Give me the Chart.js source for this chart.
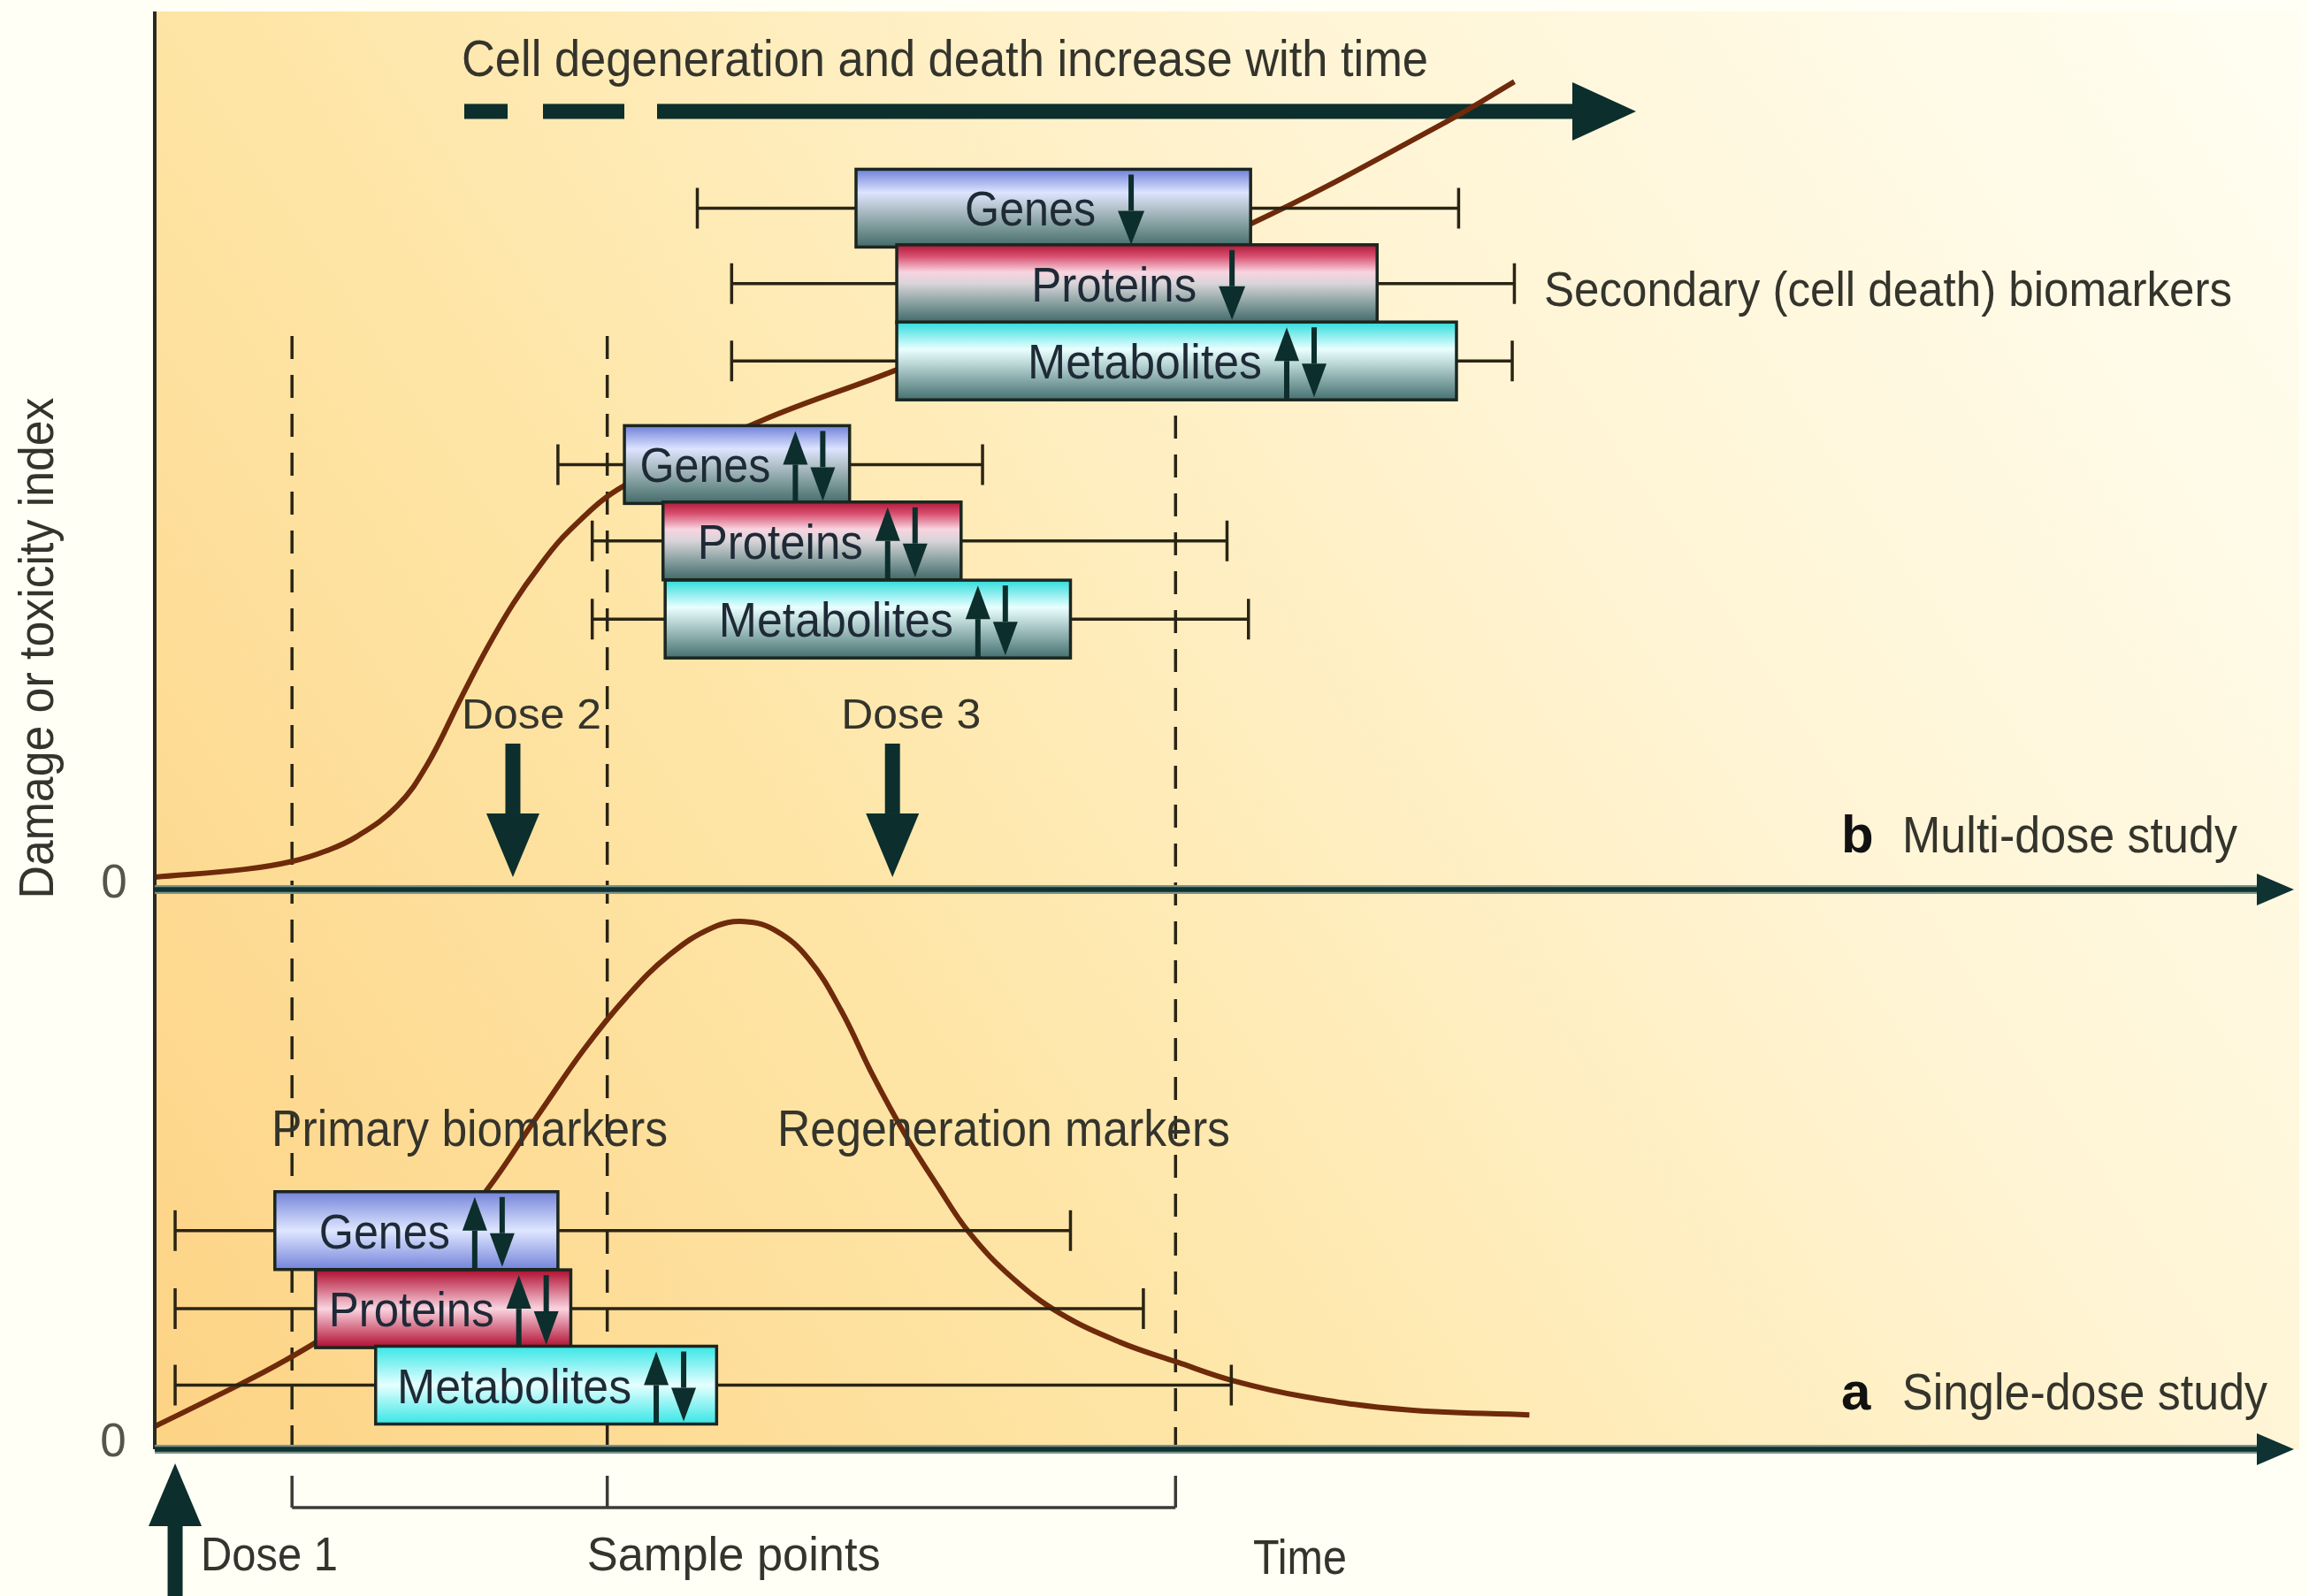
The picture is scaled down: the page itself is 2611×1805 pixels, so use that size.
<!DOCTYPE html>
<html lang="en">
  <head>
    <meta charset="UTF-8" />
    <title>Biomarkers in single- and multi-dose toxicity studies</title>
    <style>
      html,
      body {
        margin: 0;
        background: #fffff5;
      }
      .chart-box {
        width: 2611px;
        height: 1805px;
      }
    </style>
  </head>
  <body>
    <div class="chart-box">
      <canvas id="toxChart" width="2611" height="1805"></canvas>
    </div>

    <script src="https://cdn.jsdelivr.net/npm/chart.js"></script>

    <script>
      // time runs 0..100 (arbitrary units); damage index per panel
      const singleTime = [0, 3, 6, 9, 12, 15, 18, 20, 22, 24, 26, 27.5, 29, 30.5, 32, 33.5, 35, 36.5, 38, 40, 42.2, 45, 47.7, 50.3, 53.6, 58.3, 64.1];
      const singleIndex = [2.6, 6.2, 10.0, 14.6, 20.5, 28.0, 38.5, 45.5, 51.5, 56.3, 59.4, 60.1, 59.0, 55.8, 50.0, 42.5, 35.8, 30.0, 24.6, 19.5, 15.5, 12.2, 9.9, 7.8, 6.0, 4.5, 3.9];

      const multiTime = [0, 4.2, 6.4, 8, 9.4, 11.3, 12.7, 14.3, 15.5, 16.7, 17.9, 19.3, 21.9, 28.3, 34.5, 42.8, 51.1, 60.2, 63.4];
      const multiIndex = [1.4, 2.3, 3.2, 4.4, 6.0, 9.5, 14.2, 21.9, 27.5, 32.5, 36.7, 40.8, 46.0, 53.4, 59.1, 67.4, 75.8, 87.4, 92.0];

      const doseTimes = [0.95, 16.7, 34.4];
      const sampleTimes = [6.4, 21.1, 47.6];

      const markers = ["Genes", "Proteins", "Metabolites"];

      // a: single dose, primary biomarkers
      const singleLevel = [24.9, 16.0, 7.3];
      const singleLow = [0.95, 0.95, 0.95];
      const singleStart = [5.6, 7.5, 10.3];
      const singleEnd = [18.8, 19.4, 26.2];
      const singleHigh = [42.7, 46.1, 50.2];
      const singleChange = ["↑↓", "↑↓", "↑↓"];

      // b: multi dose, early markers
      const earlyLevel = [48.4, 39.7, 30.8];
      const earlyLow = [18.8, 20.4, 20.4];
      const earlyStart = [21.9, 23.7, 23.8];
      const earlyEnd = [32.4, 37.6, 42.7];
      const earlyHigh = [38.6, 50.0, 51.0];
      const earlyChange = ["↑↓", "↑↓", "↑↓"];

      // b: multi dose, secondary (cell death) markers
      const lateLevel = [77.6, 69.0, 60.2];
      const lateLow = [25.3, 26.9, 26.9];
      const lateStart = [32.7, 34.6, 34.6];
      const lateEnd = [51.1, 57.0, 60.7];
      const lateHigh = [60.8, 63.4, 63.3];
      const lateChange = ["↓", "↓", "↑↓"];

      const FONT = '"Liberation Sans", Arial, Helvetica, sans-serif';
      const TEXT = "#34342c";
      const DARK = "#0c2e2c";
      const CURVE = "#6e2a0a";
      const BOX_H = 88;
      const LABEL_W = { Genes: 148, Proteins: 187, Metabolites: 265 };

      // fade = top colour fading to grey-teal, tube = colour/light/colour
      const boxFills = {
        fade: {
          Genes: [[0, "#6f80d8"], [0.3, "#dde4ff"], [0.5, "#b4c2cc"], [0.75, "#7a9898"], [1, "#456a6a"]],
          Proteins: [[0, "#b01838"], [0.15, "#d85070"], [0.35, "#f8d4e0"], [0.5, "#d8d4d8"], [0.75, "#88a0a0"], [1, "#416868"]],
          Metabolites: [[0, "#30dcdc"], [0.35, "#eaffff"], [0.55, "#b8d4d4"], [0.8, "#789c9c"], [1, "#457070"]],
        },
        tube: {
          Genes: [[0, "#7484da"], [0.5, "#dfe6ff"], [1, "#7484da"]],
          Proteins: [[0, "#b00c30"], [0.5, "#fad4e0"], [1, "#b00c30"]],
          Metabolites: [[0, "#38e6e6"], [0.5, "#e6ffff"], [1, "#38e6e6"]],
        },
      };

      function toPoints(xs, ys) {
        return xs.map((x, i) => ({ x: x, y: ys[i] }));
      }

      function text(ctx, s, x, y, size, width, opts = {}) {
        ctx.save();
        ctx.font = (opts.bold ? "bold " : "") + size + "px " + FONT;
        ctx.fillStyle = opts.color || TEXT;
        ctx.textAlign = opts.align || "left";
        ctx.textBaseline = "alphabetic";
        const k = width ? width / ctx.measureText(s).width : 1;
        ctx.translate(x, y);
        if (opts.rotate) ctx.rotate(opts.rotate);
        ctx.scale(k, 1);
        ctx.fillText(s, 0, 0);
        ctx.restore();
      }

      function arrowV(ctx, x, yTail, yTip, shaft, headLen, headHalf, color) {
        const dir = Math.sign(yTip - yTail);
        const base = yTip - dir * headLen;
        ctx.fillStyle = color;
        ctx.fillRect(x - shaft / 2, Math.min(yTail, base), shaft, Math.abs(base - yTail));
        ctx.beginPath();
        ctx.moveTo(x - headHalf, base);
        ctx.lineTo(x + headHalf, base);
        ctx.lineTo(x, yTip);
        ctx.closePath();
        ctx.fill();
      }

      function timeAxis(ctx, x0, x1, y) {
        ctx.save();
        ctx.lineCap = "butt";
        ctx.strokeStyle = "#7d9488";
        ctx.lineWidth = 10;
        ctx.beginPath();
        ctx.moveTo(x0, y);
        ctx.lineTo(x1 - 40, y);
        ctx.stroke();
        ctx.strokeStyle = "#0f3232";
        ctx.lineWidth = 5.5;
        ctx.stroke();
        ctx.fillStyle = "#0f3232";
        ctx.beginPath();
        ctx.moveTo(x1 - 42, y - 18);
        ctx.lineTo(x1, y);
        ctx.lineTo(x1 - 42, y + 18);
        ctx.closePath();
        ctx.fill();
        ctx.restore();
      }

      function drawSet(ctx, xs, ys, set, style) {
        ctx.save();
        // whiskers
        ctx.strokeStyle = "#2a2414";
        ctx.lineWidth = 3.5;
        set.level.forEach((lv, i) => {
          const yc = ys.getPixelForValue(lv);
          const lo = xs.getPixelForValue(set.low[i]);
          const hi = xs.getPixelForValue(set.high[i]);
          ctx.beginPath();
          ctx.moveTo(lo, yc);
          ctx.lineTo(hi, yc);
          ctx.moveTo(lo, yc - 23);
          ctx.lineTo(lo, yc + 23);
          ctx.moveTo(hi, yc - 23);
          ctx.lineTo(hi, yc + 23);
          ctx.stroke();
        });
        // boxes
        set.level.forEach((lv, i) => {
          const name = markers[i];
          const yc = ys.getPixelForValue(lv);
          const x0 = xs.getPixelForValue(set.start[i]);
          const x1 = xs.getPixelForValue(set.end[i]);
          const top = yc - BOX_H / 2;
          const bot = yc + BOX_H / 2;
          const g = ctx.createLinearGradient(0, top, 0, bot);
          boxFills[style][name].forEach(([t, c]) => g.addColorStop(t, c));
          ctx.fillStyle = g;
          ctx.fillRect(x0, top, x1 - x0, BOX_H);
          ctx.strokeStyle = "#1c2620";
          ctx.lineWidth = 3.5;
          ctx.strokeRect(x0, top, x1 - x0, BOX_H);

          const change = set.change[i];
          const lw = LABEL_W[name];
          const groupW = lw + (change === "↑↓" ? 72 : 52);
          const tx = (x0 + x1) / 2 - groupW / 2;
          text(ctx, name, tx, yc + 20, 56, lw, { color: "#1e2a36" });
          if (change === "↑↓") {
            arrowV(ctx, tx + lw + 28, bot - 1, top + 6, 6, 38, 14, DARK);
            arrowV(ctx, tx + lw + 59, top + 6, bot - 3, 6, 38, 14, DARK);
          } else {
            arrowV(ctx, tx + lw + 40, top + 6, bot - 3, 6, 38, 15, DARK);
          }
        });
        ctx.restore();
      }

      const diagram = {
        id: "diagram",
        beforeDraw(chart) {
          const { ctx, chartArea: a } = chart;
          ctx.save();
          ctx.fillStyle = "#fffff5";
          ctx.fillRect(0, 0, chart.width, chart.height);
          const g = ctx.createLinearGradient(a.left, a.bottom, a.right, a.top);
          g.addColorStop(0, "#fdd385");
          g.addColorStop(0.35, "#fee6a8");
          g.addColorStop(0.68, "#fff5d6");
          g.addColorStop(1, "#fffef2");
          ctx.fillStyle = g;
          ctx.fillRect(a.left, a.top, a.right - a.left, a.bottom - a.top);
          ctx.restore();
        },
        beforeDatasetsDraw(chart) {
          const { ctx } = chart;
          const xs = chart.scales.x;
          const ya = chart.scales.yA;
          ctx.save();
          // sample point guides
          ctx.strokeStyle = "#2a2414";
          ctx.lineWidth = 3.5;
          ctx.setLineDash([26, 18]);
          sampleTimes.forEach((t, i) => {
            const x = xs.getPixelForValue(t);
            ctx.beginPath();
            ctx.moveTo(x, i < 2 ? 380 : 470);
            ctx.lineTo(x, ya.getPixelForValue(0));
            ctx.stroke();
          });
          ctx.setLineDash([]);

          // dashed "increase with time" arrow
          ctx.fillStyle = DARK;
          [[525, 574], [614, 706], [743, 1782]].forEach(([a, b]) => ctx.fillRect(a, 117.5, b - a, 17));
          ctx.beginPath();
          ctx.moveTo(1778, 93);
          ctx.lineTo(1850, 126);
          ctx.lineTo(1778, 159);
          ctx.closePath();
          ctx.fill();
          ctx.restore();
        },
        afterDatasetsDraw(chart) {
          const { ctx, chartArea: a } = chart;
          const xs = chart.scales.x;
          const ya = chart.scales.yA;
          const yb = chart.scales.yB;
          const zeroA = ya.getPixelForValue(0);
          const zeroB = yb.getPixelForValue(0);

          drawSet(ctx, xs, ya, { level: singleLevel, low: singleLow, start: singleStart, end: singleEnd, high: singleHigh, change: singleChange }, "tube");
          drawSet(ctx, xs, yb, { level: earlyLevel, low: earlyLow, start: earlyStart, end: earlyEnd, high: earlyHigh, change: earlyChange }, "fade");
          drawSet(ctx, xs, yb, { level: lateLevel, low: lateLow, start: lateStart, end: lateEnd, high: lateHigh, change: lateChange }, "fade");

          // axes
          ctx.save();
          ctx.strokeStyle = "#2a2a22";
          ctx.lineWidth = 4;
          ctx.beginPath();
          ctx.moveTo(a.left, a.top);
          ctx.lineTo(a.left, zeroA);
          ctx.stroke();
          ctx.restore();
          timeAxis(ctx, a.left, 2594, zeroB);
          timeAxis(ctx, a.left, 2594, zeroA);

          // doses
          const d1 = xs.getPixelForValue(doseTimes[0]);
          arrowV(ctx, d1, chart.height, zeroA + 16, 17, 71, 30, DARK);
          [1, 2].forEach((k) => {
            const x = xs.getPixelForValue(doseTimes[k]);
            arrowV(ctx, x, zeroB - 165, zeroB - 14, 17, 72, 30, DARK);
            text(ctx, "Dose " + (k + 1), x - 58, zeroB - 182, 49, 158);
          });
          text(ctx, "Dose 1", d1 + 29, 1776, 53, 155);

          // sample point bracket
          ctx.save();
          ctx.strokeStyle = "#3c3c36";
          ctx.lineWidth = 3.5;
          ctx.beginPath();
          const sx = sampleTimes.map((t) => xs.getPixelForValue(t));
          sx.forEach((x) => {
            ctx.moveTo(x, zeroA + 30);
            ctx.lineTo(x, zeroA + 66);
          });
          ctx.moveTo(sx[0], zeroA + 66);
          ctx.lineTo(sx[2], zeroA + 66);
          ctx.stroke();
          ctx.restore();
          text(ctx, "Sample points", (sx[0] + sx[2]) / 2, 1776, 53, 332, { align: "center" });
          text(ctx, "Time", 1417, 1780, 55, 106);

          // zero ticks and y title
          text(ctx, "0", 129, zeroB + 9, 53, 0, { align: "center", color: "#55554a" });
          text(ctx, "0", 128, zeroA + 8, 53, 0, { align: "center", color: "#55554a" });
          text(ctx, "Damage or toxicity index", 60, 733, 56, 567, { align: "center", rotate: -Math.PI / 2 });

          // annotations
          text(ctx, "Cell degeneration and death increase with time", 522, 86, 58, 1093);
          text(ctx, "Secondary (cell death) biomarkers", 1746, 346, 56, 778);
          text(ctx, "Primary biomarkers", 307, 1296, 57, 448);
          text(ctx, "Regeneration markers", 879, 1296, 57, 512);
          text(ctx, "b", 2082, zeroB - 42, 60, 0, { bold: true, color: "#111" });
          text(ctx, "Multi-dose study", 2151, zeroB - 42, 58, 379);
          text(ctx, "a", 2082, zeroA - 45, 60, 0, { bold: true, color: "#111" });
          text(ctx, "Single-dose study", 2151, zeroA - 45, 58, 413);
        },
      };

      const ctx = document.getElementById("toxChart");

      new Chart(ctx, {
        type: "line",
        data: {
          datasets: [
            {
              label: "Single-dose study",
              data: toPoints(singleTime, singleIndex),
              yAxisID: "yA",
              borderColor: CURVE,
              borderWidth: 6,
              pointRadius: 0,
              fill: false,
              tension: 0.4,
            },
            {
              label: "Multi-dose study",
              data: toPoints(multiTime, multiIndex),
              yAxisID: "yB",
              borderColor: CURVE,
              borderWidth: 6,
              pointRadius: 0,
              fill: false,
              tension: 0.4,
            },
          ],
        },
        options: {
          responsive: false,
          devicePixelRatio: 1,
          animation: false,
          layout: { padding: { left: 175, right: 11, top: 13, bottom: 166 } },
          scales: {
            x: { type: "linear", min: 0, max: 100, display: false },
            yA: { type: "linear", min: 0, max: 163.75, display: false },
            yB: { type: "linear", min: -63.75, max: 100, display: false },
          },
          plugins: {
            legend: { display: false },
            tooltip: { enabled: false },
          },
        },
        plugins: [diagram],
      });
    </script>
  </body>
</html>
